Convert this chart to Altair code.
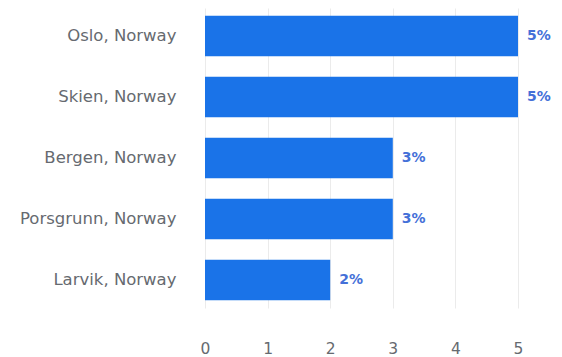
import altair as alt
import pandas as pd

cities = ["Oslo, Norway", "Skien, Norway", "Bergen, Norway", "Porsgrunn, Norway", "Larvik, Norway"]
values = [5, 5, 3, 3, 2]
labels = ["5%", "5%", "3%", "3%", "2%"]

df = pd.DataFrame({"city": cities, "value": values, "label": labels})

y = alt.Y("city:N", sort=cities, title=None,
          scale=alt.Scale(paddingInner=0.333, paddingOuter=0.125),
          axis=alt.Axis(domain=False, ticks=False, labelPadding=29, labelFont="DejaVu Sans",
                        labelFontSize=16.5, labelColor="#666a70", labelLimit=300))
x = alt.X("value:Q", title=None, scale=alt.Scale(domain=[0, 5], nice=False),
          axis=alt.Axis(values=[0, 1, 2, 3, 4, 5], domain=False, ticks=False, labelPadding=33,
                        labelFlush=False,
                        labelFont="DejaVu Sans", labelFontSize=15.5, labelColor="#666a70",
                        gridColor="#ebebeb", gridWidth=1, format="d"))

bars = alt.Chart(df).mark_bar(color="#1a73e8").encode(x=x, y=y)
text = alt.Chart(df).mark_text(align="left", baseline="middle", dx=9, font="DejaVu Sans",
                               fontSize=14, fontWeight="bold", color="#4470d8").encode(
    x="value:Q", y=alt.Y("city:N", sort=cities), text="label:N")

chart = (bars + text).properties(
    width=313, height=300,
    autosize=alt.AutoSizeParams(type="none"),
    padding={"left": 197, "top": 0, "right": 36, "bottom": 49},
).configure_view(stroke=None).configure_axisY(grid=False)

chart.save("out.html", embed_options={"renderer": "svg", "actions": False})
